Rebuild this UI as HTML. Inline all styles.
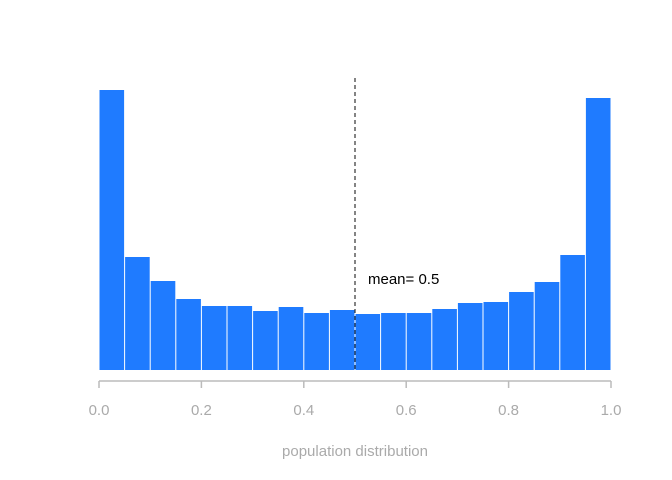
<!DOCTYPE html>
<html><head><meta charset="utf-8"><style>
body{margin:0;background:#fff}
svg{display:block;font-family:"Liberation Sans",Arial,sans-serif}
</style></head><body>
<svg id="chart" width="672" height="480">
<g id="bars"></g>
<g id="axis"></g>
<line id="mean" stroke="#333" stroke-width="1.2" stroke-dasharray="4,3"></line>
<text id="meanlbl" font-size="15" fill="#000">mean= 0.5</text>
<text x="355" y="456" text-anchor="middle" font-size="15" fill="#aaa">population distribution</text>
</svg>
<script>
const binStarts=[0,0.05,0.1,0.15,0.2,0.25,0.3,0.35,0.4,0.45,0.5,0.55,0.6,0.65,0.7,0.75,0.8,0.85,0.9,0.95];
const counts=[280,113,89,71,64,64,59,63,57,60,56,57,57,61,67,68,78,88,115,272];
const tickValues=[0,0.2,0.4,0.6,0.8,1.0];
const tickLabels=["0.0","0.2","0.4","0.6","0.8","1.0"];
const meanValue=0.5;
const binWidth=0.05;
const NS="http://www.w3.org/2000/svg";
const x=v=>99+v*512;
const y=c=>370-c;
const bars=document.getElementById('bars');
binStarts.forEach((b,i)=>{
 const r=document.createElementNS(NS,'rect');
 r.setAttribute('x',x(b)+0.5);r.setAttribute('width',x(b+binWidth)-x(b)-1);
 r.setAttribute('y',y(counts[i]));r.setAttribute('height',370-y(counts[i]));
 r.setAttribute('fill','#1f7bff');
 
 
 bars.appendChild(r);
});
const ax=document.getElementById('axis');
const l=document.createElementNS(NS,'line');
l.setAttribute('x1',x(0));l.setAttribute('x2',x(1));l.setAttribute('y1',381);l.setAttribute('y2',381);
l.setAttribute('stroke','#bbb');l.setAttribute('stroke-width','1.5');


ax.appendChild(l);
tickValues.forEach((t,i)=>{
 const tk=document.createElementNS(NS,'line');
 tk.setAttribute('x1',x(t));tk.setAttribute('x2',x(t));tk.setAttribute('y1',381);tk.setAttribute('y2',388);
 tk.setAttribute('stroke','#bbb');tk.setAttribute('stroke-width','1.5');
 
 
 ax.appendChild(tk);
 const tx=document.createElementNS(NS,'text');
 tx.setAttribute('x',x(t));tx.setAttribute('y',415);tx.setAttribute('text-anchor','middle');
 tx.setAttribute('font-size','15');tx.setAttribute('fill','#aaa');tx.textContent=tickLabels[i];
 
 
 ax.appendChild(tx);
});
const m=document.getElementById('mean');
m.setAttribute('x1',x(meanValue));m.setAttribute('x2',x(meanValue));m.setAttribute('y1',78);m.setAttribute('y2',370);
const ml=document.getElementById('meanlbl');
ml.setAttribute('x',x(meanValue)+13);ml.setAttribute('y',284);
</script>
</body></html>
